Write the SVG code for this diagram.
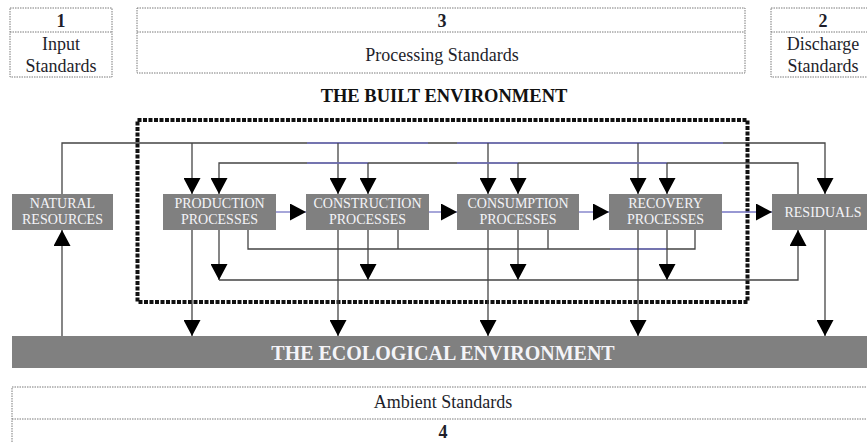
<svg xmlns="http://www.w3.org/2000/svg" width="867" height="442" viewBox="0 0 867 442">
<defs>
<marker id="ah" viewBox="0 0 16 17" markerWidth="16" markerHeight="17" refX="16" refY="8.5" markerUnits="userSpaceOnUse" orient="auto">
<path d="M0,0 L16,8.5 L0,17 z" fill="#000"/>
</marker>
<style>
.std{fill:none;stroke:#7a7a7a;stroke-width:1;stroke-dasharray:1.5 1}
.t{font-family:"Liberation Serif","Times New Roman",serif;fill:#1e1e2a;text-anchor:middle}
.num{font-weight:bold;font-size:18px}
.lbl{font-size:18px}
.node rect{fill:#808080}
.nt{font-family:"Liberation Serif","Times New Roman",serif;font-size:14px;fill:#f4f4f8;text-anchor:middle}
.ln{fill:none;stroke:#444;stroke-width:1.3}
.bl{fill:none;stroke:#7676c4;stroke-width:1.3}
.ar{marker-end:url(#ah)}
</style>
</defs>

<g id="standard-1">
<rect class="std" x="10" y="8" width="102" height="69"/>
<line class="std" x1="10" y1="32" x2="112" y2="32"/>
<text class="t num" x="61" y="27">1</text>
<text class="t lbl" x="61" y="50">Input</text>
<text class="t lbl" x="61" y="72">Standards</text>
</g>
<g id="standard-3">
<rect class="std" x="137" y="8" width="608" height="65"/>
<line class="std" x1="137" y1="32" x2="745" y2="32"/>
<text class="t num" x="442" y="27">3</text>
<text class="t lbl" x="442" y="61">Processing Standards</text>
</g>
<g id="standard-2">
<rect class="std" x="771" y="8" width="102" height="69"/>
<line class="std" x1="771" y1="32" x2="873" y2="32"/>
<text class="t num" x="823" y="27">2</text>
<text class="t lbl" x="823" y="50">Discharge</text>
<text class="t lbl" x="823" y="72">Standards</text>
</g>

<g id="built-environment">
<text class="t" x="444" y="102" style="font-weight:bold;font-size:18.5px;fill:#111">THE BUILT ENVIRONMENT</text>
<rect x="137.5" y="120" width="610" height="182" fill="none" stroke="#111" stroke-width="4" stroke-dasharray="4 1.5"/>
</g>

<g id="connectors">
<polyline class="ln ar" points="62,194 62,143 825,143 825,194"/>
<line class="bl" x1="307" y1="143" x2="428" y2="143"/>
<line class="bl" x1="457" y1="143" x2="723" y2="143"/>
<line class="ln ar" x1="192" y1="143" x2="192" y2="194"/>
<line class="ln ar" x1="338" y1="143" x2="338" y2="194"/>
<line class="ln ar" x1="488" y1="143" x2="488" y2="194"/>
<line class="ln ar" x1="638" y1="143" x2="638" y2="194"/>
<polyline class="ln ar" points="798,194 798,163 219,163 219,194"/>
<line class="bl" x1="307" y1="163" x2="368" y2="163"/>
<line class="bl" x1="457" y1="163" x2="518" y2="163"/>
<line class="bl" x1="610" y1="163" x2="667" y2="163"/>
<line class="ln ar" x1="368" y1="163" x2="368" y2="194"/>
<line class="ln ar" x1="518" y1="163" x2="518" y2="194"/>
<line class="ln ar" x1="667" y1="163" x2="667" y2="194"/>
<line class="bl ar" x1="276" y1="212" x2="306" y2="212"/>
<line class="bl ar" x1="429" y1="212" x2="457" y2="212"/>
<line class="bl ar" x1="579" y1="212" x2="609" y2="212"/>
<line class="bl ar" x1="722" y1="212" x2="772" y2="212"/>
<polyline class="ln" points="248,230 248,249 695,249 695,230"/>
<line class="bl" x1="610" y1="249" x2="667" y2="249"/>
<line class="ln" x1="398" y1="230" x2="398" y2="249"/>
<line class="ln" x1="548" y1="230" x2="548" y2="249"/>
<line class="ln ar" x1="219" y1="230" x2="219" y2="280"/>
<line class="ln ar" x1="368" y1="230" x2="368" y2="280"/>
<line class="ln ar" x1="518" y1="230" x2="518" y2="280"/>
<line class="ln ar" x1="667" y1="230" x2="667" y2="280"/>
<polyline class="ln ar" points="219,280 798,280 798,230"/>
<line class="ln ar" x1="192" y1="230" x2="192" y2="336"/>
<line class="ln ar" x1="338" y1="230" x2="338" y2="336"/>
<line class="ln ar" x1="488" y1="230" x2="488" y2="336"/>
<line class="ln ar" x1="638" y1="230" x2="638" y2="336"/>
<line class="ln ar" x1="825" y1="230" x2="825" y2="336"/>
<line class="ln ar" x1="62" y1="336" x2="62" y2="230"/>
</g>

<g id="natural-resources" class="node">
<rect x="12" y="194" width="101" height="36"/>
<text class="nt" x="62.5" y="208">NATURAL</text>
<text class="nt" x="62.5" y="224">RESOURCES</text>
</g>
<g id="production" class="node">
<rect x="163" y="194" width="113" height="36"/>
<text class="nt" x="219.5" y="208">PRODUCTION</text>
<text class="nt" x="219.5" y="224">PROCESSES</text>
</g>
<g id="construction" class="node">
<rect x="306" y="194" width="123" height="36"/>
<text class="nt" x="367.5" y="208">CONSTRUCTION</text>
<text class="nt" x="367.5" y="224">PROCESSES</text>
</g>
<g id="consumption" class="node">
<rect x="457" y="194" width="122" height="36"/>
<text class="nt" x="518" y="208">CONSUMPTION</text>
<text class="nt" x="518" y="224">PROCESSES</text>
</g>
<g id="recovery" class="node">
<rect x="609" y="194" width="113" height="36"/>
<text class="nt" x="665.5" y="208">RECOVERY</text>
<text class="nt" x="665.5" y="224">PROCESSES</text>
</g>
<g id="residuals" class="node">
<rect x="772" y="194" width="100" height="36"/>
<text class="nt" x="823" y="217">RESIDUALS</text>
</g>

<g id="ecological-environment" class="node">
<rect x="12" y="336" width="860" height="32"/>
<text class="nt" x="443" y="360" style="font-size:20px;font-weight:bold">THE ECOLOGICAL ENVIRONMENT</text>
</g>

<g id="standard-4">
<rect class="std" x="12" y="387" width="860" height="60"/>
<line class="std" x1="12" y1="419" x2="872" y2="419"/>
<text class="t lbl" x="443" y="408">Ambient Standards</text>
<text class="t num" x="443" y="438">4</text>
</g>
</svg>
